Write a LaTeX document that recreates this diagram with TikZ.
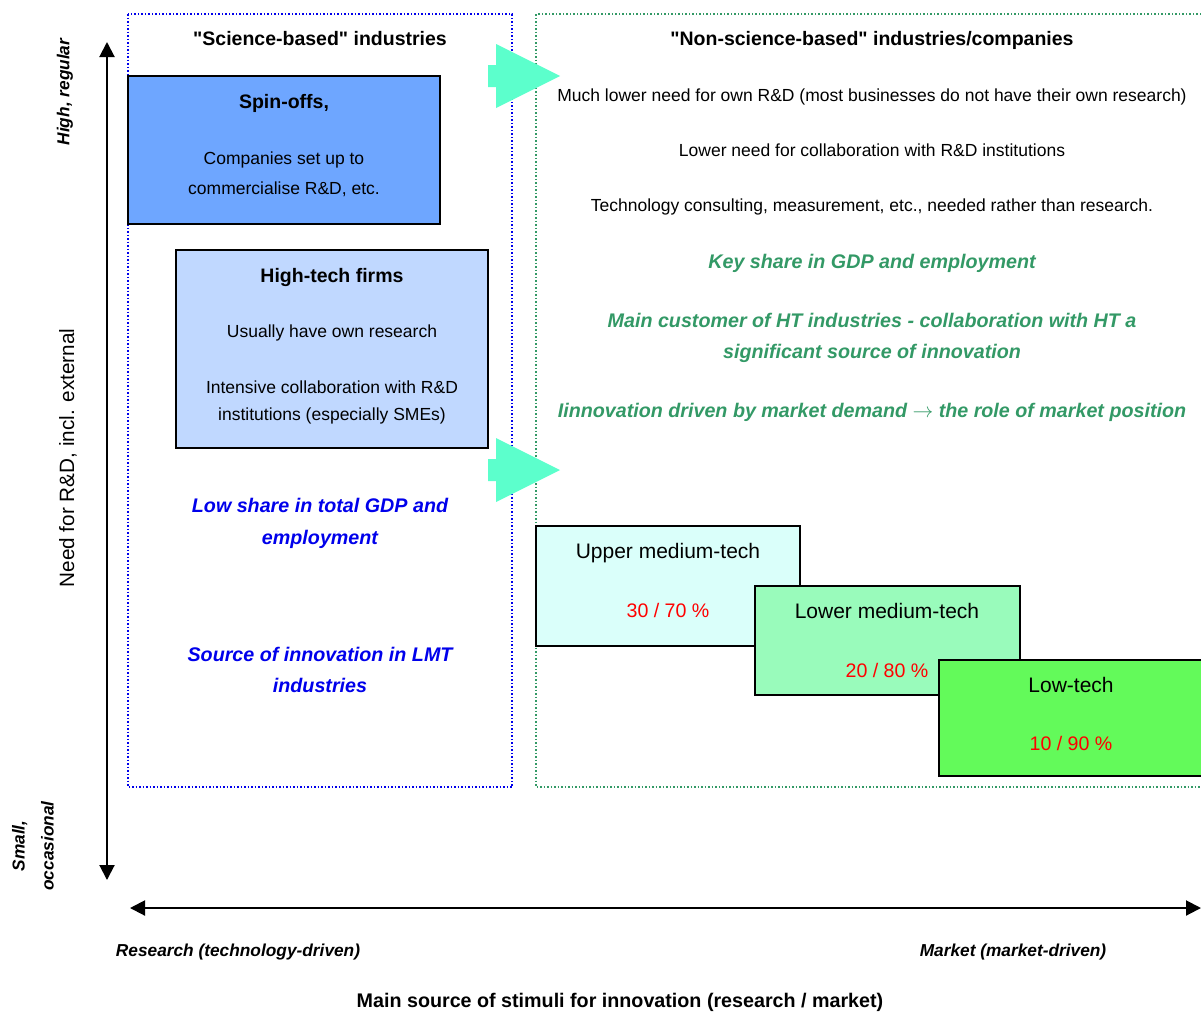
\documentclass[tikz,border=0pt]{standalone}
\usepackage{fontspec}
\setmainfont{Liberation Sans}[Ligatures=TeXOff]
\usetikzlibrary{arrows.meta}

\definecolor{spinblue}{RGB}{110,166,255}
\definecolor{htblue}{RGB}{192,216,255}
\definecolor{umtcyan}{RGB}{218,255,250}
\definecolor{lmtmint}{RGB}{153,251,187}
\definecolor{ltgreen}{RGB}{99,250,90}
\definecolor{keygreen}{RGB}{51,153,102}
\definecolor{fatteal}{RGB}{92,255,204}
\definecolor{lmtblue}{RGB}{0,0,235}

\begin{document}
\begin{tikzpicture}[x=1pt, y=-1pt,
    txt/.style={anchor=north, inner sep=0pt, align=center, font=\fontsize{17.5}{30}\selectfont},
    hd/.style={txt, font=\fontsize{19.5}{30}\selectfont\bfseries},
    keytxt/.style={txt, text=keygreen, font=\fontsize{19.7}{31}\selectfont\bfseries\itshape},
    lmttxt/.style={txt, text=lmtblue, font=\fontsize{19.7}{31}\selectfont\bfseries\itshape},
    techlbl/.style={txt, font=\fontsize{21}{30}\selectfont},
    share/.style={txt, text=red, font=\fontsize{19.6}{30}\selectfont},
    axislbl/.style={inner sep=0pt, align=center, font=\fontsize{17.3}{29}\selectfont\bfseries\itshape},
    sector/.style={draw=black, line width=1.8pt, inner sep=0pt},
    fatarrow/.style={fill=fatteal},
    axis/.style={line width=2pt, {Triangle[length=15pt,width=15pt]}-{Triangle[length=15pt,width=15pt]}}]

\useasboundingbox (0,0) rectangle (1201,1015);

% the two groups of industries
\draw[lmtblue, dotted, line width=1.5pt] (128,14) rectangle (512,787);
\draw[keygreen, dotted, line width=1.5pt] (536,14) rectangle (1205,787);
\node[hd] (scihead) at (320,31) {"Science-based" industries};
\node[hd] (nonhead) at (872,31) {"Non-science-based" industries/companies};

% science-based side
\node[sector, fill=spinblue, minimum width=312pt, minimum height=148pt] (spin) at (284,150) {};
\node[hd] (spinhead) at (284,94) {Spin-offs,};
\node[txt] (spintxt) at (284,151.7) {Companies set up to\\commercialise R\&D, etc.};

\node[sector, fill=htblue, minimum width=312pt, minimum height=198pt] (htfirm) at (332,349) {};
\node[hd] (hthead) at (332,268) {High-tech firms};
\node[txt] (httxt1) at (332,324.7) {Usually have own research};
\node[txt, font=\fontsize{17.5}{27}\selectfont] (httxt2) at (332,380.7) {Intensive collaboration with R\&D\\institutions (especially SMEs)};

\node[lmttxt, font=\fontsize{19.7}{32}\selectfont\bfseries\itshape] (lowshare) at (320,498) {Low share in total GDP and\\employment};
\node[lmttxt] (source) at (320,647) {Source of innovation in LMT\\industries};

% transfer arrows
\foreach \ay in {76,470}
  \fill[fatarrow] (488,\ay-11) -- (496,\ay-11) -- (496,\ay-32) -- (560,\ay)
    -- (496,\ay+32) -- (496,\ay+11) -- (488,\ay+11) -- cycle;

% non-science-based side
\node[txt] (need1) at (872,88.7) {Much lower need for own R\&D (most businesses do not have their own research)};
\node[txt] (need2) at (872,143.7) {Lower need for collaboration with R\&D institutions};
\node[txt] (need3) at (872,198.7) {Technology consulting, measurement, etc., needed rather than research.};
\node[keytxt] (gdp) at (872,254) {Key share in GDP and employment};
\node[keytxt] (customer) at (872,313) {Main customer of HT industries - collaboration with HT a\\significant source of innovation};
\node[keytxt] (demand) at (872,403) {Iinnovation driven by market demand $\rightarrow$ the role of market position};

% medium and low tech
\node[sector, fill=umtcyan, minimum width=264pt, minimum height=120pt] (umt) at (668,586) {};
\node[techlbl] (umthead) at (668,543.5) {Upper medium-tech};
\node[share] (umtshare) at (668,603) {30 / 70 \%};

\node[sector, fill=lmtmint, minimum width=265pt, minimum height=109pt] (lmt) at (887.5,640.5) {};
\node[techlbl] (lmthead) at (887,603.5) {Lower medium-tech};
\node[share] (lmtshare) at (887,663) {20 / 80 \%};

\node[sector, fill=ltgreen, minimum width=270pt, minimum height=116pt] (lt) at (1074,718) {};
\node[techlbl] (lthead) at (1071,677.5) {Low-tech};
\node[share] (ltshare) at (1071,736) {10 / 90 \%};

% axes
\coordinate (ytop) at (107,42);
\coordinate (ybot) at (107,880);
\coordinate (xleft) at (130,908);
\coordinate (xright) at (1201,908);
\draw[axis] (ybot) -- (ytop);
\draw[axis] (xleft) -- (xright);

\node[axislbl, rotate=90] (high) at (65,92) {High, regular};
\node[axislbl, rotate=90] (small) at (33,846) {Small,\\occasional};
\node[rotate=90, inner sep=0pt, font=\fontsize{20.7}{24}\selectfont] (needrd) at (68,458) {Need for R\&D, incl. external};
\node[axislbl] (research) at (238,952) {Research (technology-driven)};
\node[axislbl] (market) at (1013,952) {Market (market-driven)};
\node[inner sep=0pt, font=\fontsize{19.7}{24}\selectfont\bfseries] (stimuli) at (620,1002) {Main source of stimuli for innovation (research / market)};

\end{tikzpicture}
\end{document}
